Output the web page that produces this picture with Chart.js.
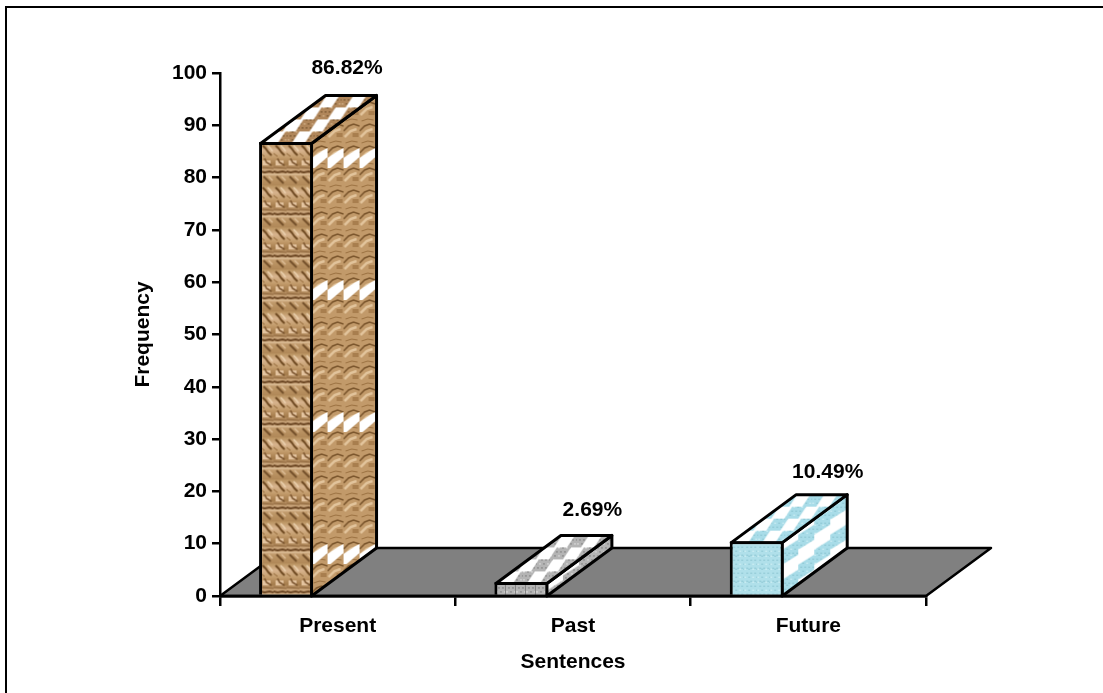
<!DOCTYPE html>
<html>
<head>
<meta charset="utf-8">
<title>Sentences</title>
<script src="https://cdn.jsdelivr.net/npm/chart.js@4"></script>
<style>
  html, body { margin: 0; padding: 0; background: #fff; overflow: hidden; }
  #wrap { position: relative; width: 1103px; height: 693px; }
  #frame { position: absolute; left: 5px; top: 6px; right: 0; bottom: 0;
           border-left: 2px solid #000; border-top: 2px solid #000; }
  #chart { position: absolute; left: 0; top: 0; }
</style>
</head>
<body>
<div id="wrap">
  <div id="frame"></div>
  <canvas id="chart" width="1103" height="693"></canvas>
</div>
<script>
const categories = ["Present", "Past", "Future"];
const percentages = [86.82, 2.69, 10.49];
// small per-bar shifts of the percent labels
const labelShiftX = [61, 71, 71];
const labelShiftY = [26, 24, 21];

const FONT = '"Liberation Sans", Arial, sans-serif';
const DEPTH_X = 65;
const DEPTH_Y = 48;
const EDGE = 3;
const AXIS_WIDTH = 2.5;

// -----------------------------
// Texture tiles
// -----------------------------
function makeTile(w, h, paint) {
  const tile = document.createElement("canvas");
  tile.width = w;
  tile.height = h;
  paint(tile.getContext("2d"), w, h);
  return tile;
}

function stroke(g, color, width, pts) {
  g.strokeStyle = color;
  g.lineWidth = width;
  g.beginPath();
  pts.forEach(([x, y], i) => (i ? g.lineTo(x, y) : g.moveTo(x, y)));
  g.stroke();
}

function brownFront(g, w, h) {
  const grad = g.createLinearGradient(0, 0, 0, h);
  ["#b8925f", "#d8b48e", "#c39c6c", "#a57c4c", "#d2ae86", "#bb9464", "#b08858"].forEach((c, i) => grad.addColorStop(i / 6, c));
  g.fillStyle = grad;
  g.fillRect(0, 0, w, h);

  // row of slanted dark strokes
  stroke(g, "#6f4a22", 2, [[2, 2], [5, 5], [8, 9], [11, 12]]);
  stroke(g, "#ecd2b0", 1.5, [[7, 2], [10, 5], [12, 8]]);
  stroke(g, "#8f6636", 1, [[0, 10], [4, 13]]);

  // lighter row with blotches
  g.fillStyle = "#e4c4a0";
  g.fillRect(2, 17, 8, 5);
  stroke(g, "#76502a", 1.5, [[4, 15], [6, 19], [11, 22]]);
  stroke(g, "#8a6238", 1, [[0, 24], [w, 25]]);

  // dark band under the second row
  stroke(g, "#6a4522", 2, [[0, 28], [4, 29], [9, 28], [w, 29]]);
  stroke(g, "#e6caa6", 1, [[0, 31], [w, 31]]);
  stroke(g, "#74502a", 2, [[3, 33], [6, 36], [10, 40]]);
  stroke(g, "#dfc09a", 1.5, [[8, 33], [12, 37]]);
}

function brownSide(g, w, h) {
  g.fillStyle = "#c29a6a";
  g.fillRect(0, 0, w, h);
  for (let y = 0; y < h; y += 22) {
    stroke(g, "#7a552c", 1.5, [[0, y + 14], [5, y + 9], [10, y + 7], [w, y + 9]]);
    stroke(g, "#e2c49c", 2.5, [[1, y + 20], [7, y + 14], [13, y + 12]]);
    stroke(g, "#9c7242", 1, [[2, y + 4], [8, y + 2], [14, y + 3]]);
    g.fillStyle = "#a87e4e";
    g.fillRect(9, y + 16, 6, 4);
  }
  // white saw-tooth band that comes round once per tile height
  g.fillStyle = "#fff";
  g.beginPath();
  g.moveTo(0, 19);
  g.lineTo(12, 11);
  g.lineTo(w, 9);
  g.lineTo(w, 18);
  g.lineTo(3, 29);
  g.lineTo(0, 29);
  g.closePath();
  g.fill();
}

function speckle(g, x, y, w, h, base, dark, light) {
  g.fillStyle = base;
  g.fillRect(x, y, w, h);
  for (let j = 0; j < h; j += 4) {
    for (let i = (j % 8 ? 2 : 0); i < w; i += 4) {
      g.fillStyle = (i + j) % 8 ? dark : light;
      g.fillRect(x + i, y + j, 2, 1);
    }
  }
}

// staggered blocks on the top faces, each row moved 9px against the one above
function topTile(base, dark, light) {
  return (g, w, h) => {
    speckle(g, 0, 0, w, h, base, dark, light);
    g.fillStyle = "#fff";
    for (let row = 0; row < 3; row++) {
      const y = row * 12;
      for (let k = -1; k <= 1; k++) {
        const x = row * 9 + k * w + 13;
        g.beginPath();
        g.moveTo(x + 8, y);
        g.lineTo(x + 21, y);
        g.lineTo(x + 13, y + 12);
        g.lineTo(x, y + 12);
        g.closePath();
        g.fill();
      }
    }
  };
}

// side faces: sloped white blocks, alternate columns half a tile apart
function sideTile(base, dark, light) {
  return (g, w, h) => {
    speckle(g, 0, 0, w, h, base, dark, light);
    g.fillStyle = "#fff";
    [0, 1].forEach(col => {
      for (let k = -1; k <= 1; k++) {
        const x = col * 16;
        const y = k * h + col * 15;
        g.beginPath();
        g.moveTo(x, y + 10);
        g.lineTo(x + 16, y);
        g.lineTo(x + 16, y + 15);
        g.lineTo(x, y + 25);
        g.closePath();
        g.fill();
      }
    });
  };
}

function greyFront(g, w, h) {
  speckle(g, 0, 0, w, h, "#b4b4b4", "#7e7e7e", "#e2e2e2");
  g.fillStyle = "#808080";
  g.fillRect(w - 1, 0, 1, h);
}

function blueFront(g, w, h) {
  speckle(g, 0, 0, w, h, "#b0e0ea", "#8fc8d4", "#d2f0f5");
}

const canvas = document.getElementById("chart");
const ctx = canvas.getContext("2d");
const toPattern = (w, h, paint) => ctx.createPattern(makeTile(w, h, paint), "repeat");

const brown = ["#b0865a", "#70502a", "#d8b890"];
const grey = ["#b4b4b4", "#808080", "#dcdcdc"];
const blue = ["#a8dce8", "#8cc6d2", "#cfeef4"];

const frontFills = [toPattern(13, 42, brownFront), toPattern(10, 12, greyFront), toPattern(13, 13, blueFront)];
const sideFills = [toPattern(16, 132, brownSide), toPattern(32, 30, sideTile(...grey)), toPattern(32, 30, sideTile(...blue))];
const topFills = [toPattern(27, 36, topTile(...brown)), toPattern(27, 36, topTile(...grey)), toPattern(27, 36, topTile(...blue))];

function polygon(g, pts, fill) {
  g.beginPath();
  pts.forEach(([x, y], i) => (i ? g.lineTo(x, y) : g.moveTo(x, y)));
  g.closePath();
  g.fillStyle = fill;
  g.fill();
  g.stroke();
}

// -----------------------------
// Floor and bar depth, drawn behind the front faces
// -----------------------------
const depthPlugin = {
  id: "depth",
  beforeDatasetsDraw(chart) {
    const g = chart.ctx;
    const { x: xs, y: ys } = chart.scales;
    const zero = ys.getPixelForValue(0);

    g.save();
    g.strokeStyle = "#000";
    g.lineJoin = "round";
    g.lineWidth = AXIS_WIDTH;
    polygon(g, [
      [xs.left, zero],
      [xs.left + DEPTH_X, zero - DEPTH_Y],
      [xs.right + DEPTH_X, zero - DEPTH_Y],
      [xs.right, zero]
    ], "#808080");

    g.lineWidth = EDGE;
    chart.getDatasetMeta(0).data.forEach((bar, i) => {
      const left = bar.x - bar.width / 2 + EDGE / 2;
      const right = bar.x + bar.width / 2 - EDGE / 2;
      const top = bar.y + EDGE / 2;

      frontFills[i].setTransform(new DOMMatrix([1, 0, 0, 1, left, top]));
      sideFills[i].setTransform(new DOMMatrix([1, 0, 0, 1, right, i === 0 ? 7 : top - DEPTH_Y]));
      topFills[i].setTransform(new DOMMatrix([1, 0, 0, 1, left, top]));

      polygon(g, [[right, top], [right + DEPTH_X, top - DEPTH_Y], [right + DEPTH_X, zero - DEPTH_Y], [right, zero]], sideFills[i]);
      polygon(g, [[left, top], [left + DEPTH_X, top - DEPTH_Y], [right + DEPTH_X, top - DEPTH_Y], [right, top]], topFills[i]);
    });
    g.restore();
  },
  afterDatasetsDraw(chart) {
    const g = chart.ctx;
    const { x: xs, y: ys } = chart.scales;
    const zero = ys.getPixelForValue(0);
    g.save();
    g.fillStyle = "#000";
    g.font = `bold 21px ${FONT}`;
    g.textAlign = "center";
    g.textBaseline = "middle";
    chart.getDatasetMeta(0).data.forEach((bar, i) => {
      g.fillText(`${percentages[i].toFixed(2)}%`, bar.x + labelShiftX[i], bar.y - DEPTH_Y - labelShiftY[i]);
    });
    // front edge of the floor runs over the foot of each bar
    g.strokeStyle = "#000";
    g.lineWidth = AXIS_WIDTH;
    g.beginPath();
    g.moveTo(xs.left, zero);
    g.lineTo(xs.right, zero);
    g.stroke();
    g.restore();
  }
};

// -----------------------------
// Chart
// -----------------------------
new Chart(ctx, {
  type: "bar",
  plugins: [depthPlugin],
  data: {
    labels: categories,
    datasets: [
      {
        label: "Sentences",
        data: percentages,
        backgroundColor: frontFills,
        borderColor: "#000",
        borderWidth: EDGE
      },
      // empty slots: they push the front face left so the depth sits over the category
      { label: "", data: [] },
      { label: "", data: [] }
    ]
  },
  options: {
    responsive: false,
    animation: false,
    categoryPercentage: 0.658,
    barPercentage: 1.046,
    layout: { padding: { left: 131, right: 177, top: 73, bottom: 18 } },
    plugins: { legend: { display: false }, tooltip: { enabled: false } },
    scales: {
      x: {
        afterFit: scale => { scale.height = 79; },
        border: { color: "#000", width: AXIS_WIDTH },
        grid: { drawOnChartArea: false, color: "#000", lineWidth: AXIS_WIDTH, tickLength: 10 },
        ticks: { color: "#000", font: { family: FONT, size: 21, weight: "bold" }, padding: 8, maxRotation: 0 },
        title: {
          display: true,
          text: "Sentences",
          color: "#000",
          font: { family: FONT, size: 21, weight: "bold" },
          padding: 0
        }
      },
      y: {
        min: 0,
        max: 100,
        afterFit: scale => { scale.width = 89; },
        border: { color: "#000", width: AXIS_WIDTH },
        grid: { drawOnChartArea: false, color: "#000", lineWidth: AXIS_WIDTH, tickLength: 8 },
        ticks: { color: "#000", stepSize: 10, font: { family: FONT, size: 21, weight: "bold" }, padding: 5 },
        title: {
          display: true,
          text: "Frequency",
          color: "#000",
          font: { family: FONT, size: 21, weight: "bold" },
          padding: 0
        }
      }
    }
  }
});
</script>
</body>
</html>
